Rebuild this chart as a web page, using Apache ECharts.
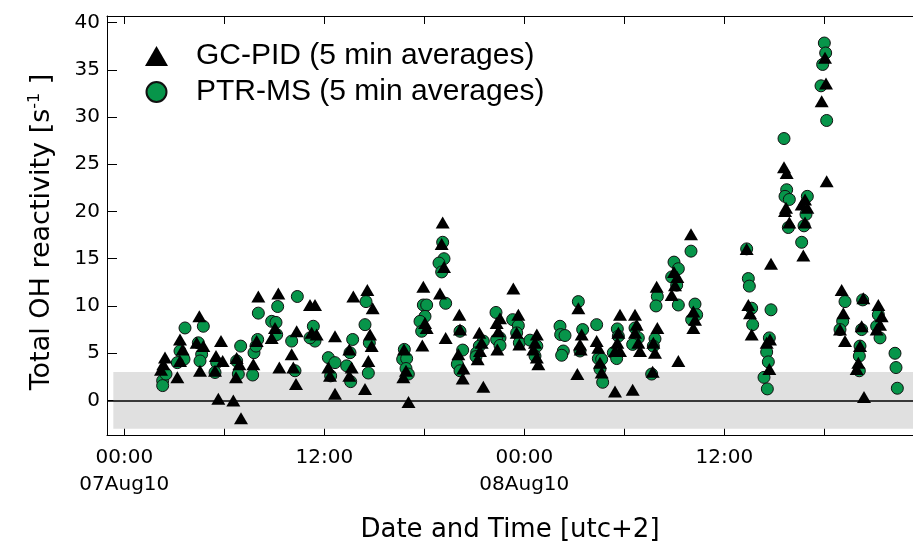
<!DOCTYPE html>
<html>
<head>
<meta charset="utf-8">
<script src="https://cdn.jsdelivr.net/npm/echarts@6/dist/echarts.min.js"></script>
<style>
html,body{margin:0;padding:0;background:#fff;}
#chart{width:913px;height:548px;}
</style>
</head>
<body>
<div id="chart"></div>
<script>
// Hours since 07Aug10 00:00 (utc+2)
const gcHours = [
2.44,2.34,2.2,3.34,3.5,3.34,3.18,4.5,4.34,4.74,4.54,5.8,5.5,5.9,5.44,5.64,6.54,7.0,6.74,6.9,6.7,8.04,7.74,7.94,9.24,9.04,8.84,9.3,10.34,10.04,10.14,10.3,11.14,11.44,11.54,11.24,12.64,12.24,12.64,12.34,13.74,13.5,13.64,13.5,14.58,14.9,14.74,14.84,14.64,14.44,
17.05,16.74,16.9,16.78,17.94,17.88,18.04,18.14,19.1,19.04,19.18,18.94,19.28,20.1,20.14,20.04,20.34,20.3,21.3,21.44,21.34,21.2,21.54,22.34,22.54,22.44,22.38,23.34,23.64,23.54,23.7,
24.75,24.64,24.54,24.75,24.84,27.24,27.18,27.44,27.34,27.38,28.34,28.44,28.54,28.64,29.44,30.5,29.74,29.64,29.58,29.74,29.44,30.64,30.74,30.64,30.84,30.94,31.7,31.94,31.98,31.74,31.84,32.84,33.04,32.98,33.18,33.24,34.0,34.14,34.24,34.14,
37.34,38.8,37.44,37.54,37.64,38.74,38.54,38.7,39.58,39.74,39.7,39.64,39.9,40.64,40.98,40.84,40.84,40.74,42.04,42.1,41.84,42.14,43.04,43.14,42.94,43.24,44.34,44.24,44.14,44.04,43.94,44.38,45.24,45.44,45.34,45.14
];
const gcValues = [
4.53,3.84,3.24,6.45,5.4,4.18,2.44,8.9,6.1,5.75,3.14,6.28,4.7,4.18,3.14,0.18,0.0,-1.9,4.5,3.84,2.44,11.0,3.84,6.28,11.33,7.67,6.62,3.48,7.32,4.88,3.48,1.74,10.1,10.1,6.97,7.15,6.8,3.48,0.7,2.6,11.0,5.4,3.48,2.6,11.7,9.76,6.97,5.75,4.18,1.22,
-0.17,2.44,3.14,5.4,12.03,5.82,8.19,7.67,18.83,16.56,14.12,11.33,6.62,9.07,7.5,4.88,3.38,2.33,7.15,6.1,5.23,4.36,1.46,8.19,8.71,7.32,5.4,11.85,9.07,7.15,5.93,
6.97,6.1,5.4,4.53,3.84,9.76,2.79,6.97,5.93,5.4,6.28,5.58,4.0,2.96,0.94,1.12,9.07,7.15,6.1,5.23,5.23,9.07,8.02,7.15,6.1,5.23,3.03,12.03,7.67,6.1,5.05,11.16,12.2,13.6,13.07,4.18,17.6,9.41,8.55,7.67,
16.04,14.47,10.1,9.24,6.97,6.45,6.1,3.32,24.69,24.06,20.4,20.05,18.83,20.74,20.4,21.27,18.83,15.35,36.26,33.55,31.66,23.19,11.68,9.24,7.5,6.28,10.81,7.85,5.75,4.0,3.32,0.35,10.1,8.9,8.02,7.5
];
const ptrHours = [
2.3,2.3,2.5,3.64,3.34,3.58,3.18,4.74,4.44,4.64,4.54,5.54,5.44,6.74,6.98,6.84,8.04,7.78,7.9,8.0,7.7,8.84,9.1,9.2,9.14,10.38,10.04,10.24,11.34,11.44,11.14,12.24,12.64,12.38,13.7,13.54,13.34,13.58,14.5,14.44,14.7,14.64,
16.8,16.7,16.94,16.9,17.04,17.94,18.14,18.04,17.74,17.84,19.1,19.18,18.88,19.04,19.28,20.14,20.3,19.98,20.14,21.54,21.3,21.14,21.1,22.3,22.54,22.34,22.54,23.3,23.64,23.54,23.7,24.34,
24.75,24.64,26.14,26.18,26.44,26.34,26.24,27.24,27.5,27.34,28.34,28.44,28.64,28.54,28.7,29.58,29.64,29.34,29.54,30.64,30.84,30.5,31.64,31.98,31.9,31.84,31.74,32.98,33.24,32.84,33.14,33.24,34.0,34.24,34.34,34.04,
37.34,37.44,37.5,37.64,37.7,38.8,38.7,38.54,38.64,38.38,38.58,39.58,39.74,39.64,39.9,40.98,39.84,40.78,40.64,40.9,42.0,42.08,41.9,41.8,42.14,43.24,43.1,42.94,44.3,44.24,44.14,44.1,44.1,45.24,45.14,45.34,46.24,46.3,46.38
];
const ptrValues = [
2.09,1.57,2.79,7.67,5.23,4.36,4.0,7.85,6.1,4.88,4.18,4.0,2.96,4.18,5.75,2.79,9.24,5.05,5.75,6.45,2.69,8.37,8.26,9.94,6.97,11.0,6.28,3.14,7.85,6.28,6.62,4.53,4.0,2.6,6.45,5.05,3.66,1.99,10.46,8.02,6.1,2.9,
5.4,4.36,4.43,3.38,2.79,10.1,10.1,8.9,8.37,7.32,16.74,15.0,14.54,13.6,10.28,7.32,5.33,3.84,3.14,6.28,5.75,5.05,4.64,9.31,6.62,6.45,5.82,8.55,7.92,7.15,6.1,6.38,
5.75,4.7,7.85,6.97,6.87,5.23,4.78,10.46,7.5,5.23,8.02,4.43,4.36,3.32,1.92,7.57,6.8,5.05,4.43,7.67,6.62,5.93,2.79,11.0,10.0,6.52,5.75,14.64,13.94,13.07,12.2,10.1,15.8,10.2,9.07,8.55,
16.04,12.9,12.1,9.76,8.02,9.59,6.62,5.12,4.08,2.44,1.22,27.72,22.3,21.6,21.27,21.6,18.3,18.48,16.74,19.7,37.83,36.78,35.56,33.3,29.63,10.46,8.37,7.5,10.64,7.5,5.75,4.7,3.14,9.07,7.85,6.62,4.99,3.48,1.29
];
const xTickHours = [0, 6, 12, 18, 24, 30, 36, 42];
const xLabelHours = [0, 12, 24, 36];
const xLabelTexts = ['00:00\n07Aug10', '12:00', '00:00\n08Aug10', '12:00'];
const yTickValues = [0, 5, 10, 15, 20, 25, 30, 35, 40];
const bandRange = [-3, 3];
const seriesNames = ['GC-PID (5 min averages)', 'PTR-MS (5 min averages)'];

const X_MIN = -1.04, X_MAX = 47.32, Y_MIN = -3.66, Y_MAX = 40.69;
const FONT = 'DejaVu Sans';

function pairs(xs, ys) { return xs.map((x, i) => [x, ys[i]]); }

const chart = echarts.init(document.getElementById('chart'), null, {renderer: 'canvas'});
chart.setOption({
  animation: false,
  backgroundColor: '#ffffff',
  grid: {left: 107, top: 16, right: 0, bottom: 108, containLabel: false},
  legend: {
    orient: 'vertical', left: 140, top: 36,
    itemWidth: 23, itemHeight: 20, itemGap: 6,
    data: [{name: seriesNames[0], icon: 'triangle'}, {name: seriesNames[1], icon: 'circle'}],
    textStyle: {fontFamily: 'Liberation Sans', fontSize: 30, color: '#000', padding: [0, 0, 0, 23]},
    selectedMode: false
  },
  xAxis: [{
    type: 'value', min: X_MIN, max: X_MAX, position: 'bottom',
    axisLine: {show: true, onZero: false, lineStyle: {color: '#000', width: 1}},
    axisTick: {show: true, inside: true, length: 7, customValues: xTickHours, lineStyle: {color: '#000'}},
    axisLabel: {
      show: true, customValues: xLabelHours, margin: 9,
      fontFamily: FONT, fontSize: 20, color: '#000', lineHeight: 27,
      formatter: function (v) {
        const i = xLabelHours.findIndex(h => Math.abs(h - v) < 1e-6);
        return i >= 0 ? xLabelTexts[i] : '';
      }
    },
    splitLine: {show: false},
    name: 'Date and Time [utc+2]', nameLocation: 'middle', nameGap: 82,
    nameTextStyle: {fontFamily: FONT, fontSize: 26, color: '#000'}
  }, {
    type: 'value', min: X_MIN, max: X_MAX, position: 'top',
    axisLine: {show: true, onZero: false, lineStyle: {color: '#000', width: 1}},
    axisTick: {show: true, inside: true, length: 8, customValues: xTickHours, lineStyle: {color: '#000'}},
    axisLabel: {show: false},
    splitLine: {show: false}
  }],
  yAxis: {
    type: 'value', min: Y_MIN, max: Y_MAX,
    axisLine: {show: true, onZero: false, lineStyle: {color: '#000', width: 1}},
    axisTick: {show: true, inside: true, length: 10, customValues: yTickValues, lineStyle: {color: '#000'}},
    axisLabel: {show: true, customValues: yTickValues, margin: 7, fontFamily: FONT, fontSize: 20, color: '#000'},
    splitLine: {show: false}
  },
  graphic: [{
    type: 'text', x: 42, y: 232, rotation: Math.PI / 2,
    style: {
      text: '{a|Total OH reactivity [s}{b|-1}{a| ]}',
      rich: {
        a: {fontFamily: FONT, fontSize: 27, fill: '#000'},
        b: {fontFamily: FONT, fontSize: 16, fill: '#000', padding: [0, 0, 14, 0]}
      },
      align: 'center', verticalAlign: 'middle', fill: '#000'
    }
  }],
  series: [{
    type: 'line', data: [], z: 1, silent: true,
    markArea: {
      silent: true,
      itemStyle: {color: '#e0e0e0'},
      data: [[{xAxis: -0.66, yAxis: bandRange[0]}, {xAxis: X_MAX, yAxis: bandRange[1]}]]
    },
    markLine: {
      silent: true, symbol: 'none', label: {show: false},
      lineStyle: {color: '#000', width: 1.5, type: 'solid'},
      data: [{yAxis: 0}]
    }
  }, {
    name: seriesNames[1], type: 'scatter', z: 3,
    symbol: 'circle', symbolSize: 12,
    itemStyle: {color: '#07954a', borderColor: '#111', borderWidth: 1, opacity: 1},
    data: pairs(ptrHours, ptrValues)
  }, {
    name: seriesNames[0], type: 'scatter', z: 4,
    symbol: 'triangle', symbolSize: [14, 12],
    itemStyle: {color: '#000', opacity: 1},
    data: pairs(gcHours, gcValues)
  }]
});
</script>
</body>
</html>
